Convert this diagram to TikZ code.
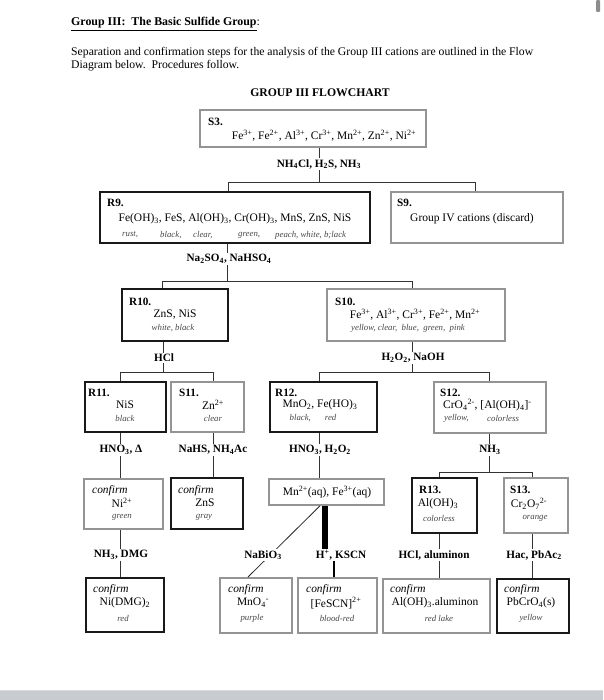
\documentclass[tikz,border=0pt]{standalone}
\usepackage{fontspec}
\setmainfont{Liberation Serif}
\begin{document}
\begin{tikzpicture}[x=1pt,y=-1pt,
  bx/.style={draw, anchor=north west, inner sep=0pt},
  rbox/.style={bx, line width=2.2pt, draw=black!90},
  gbox/.style={bx, line width=1.8pt, draw=black!42},
  hd/.style={anchor=west, inner sep=0pt, font=\bfseries\fontsize{11.2}{13}\selectfont},
  tx/.style={inner sep=0pt, font=\fontsize{11.5}{13}\selectfont},
  txw/.style={tx, anchor=west},
  cl/.style={inner sep=0pt, text=black!72, font=\itshape\fontsize{8.8}{10}\selectfont},
  clw/.style={cl, anchor=west},
  cf/.style={anchor=west, inner sep=0pt, font=\itshape\fontsize{11.4}{13}\selectfont},
  lb/.style={inner sep=1.2pt, fill=white, font=\bfseries\fontsize{11.2}{13}\selectfont},
  conn/.style={line width=0.9pt, draw=black!80},
  pt/.style={anchor=west, inner sep=0pt, font=\fontsize{11.7}{14}\selectfont}]
\useasboundingbox (0,0) rectangle (603,700);
\fill[white] (0,0) rectangle (603,700);
% scrollbar and bottom bar
\fill[black!45, rounded corners=1pt] (596,0) rectangle (600,12);
\fill[fill={rgb,255:red,200;green,203;blue,208}] (0,690) rectangle (603,700);
\draw[black!15, line width=0.6pt] (0,690) -- (603,690);

% header texts
\node[pt, font=\fontsize{11.9}{14}\selectfont] (title) at (71,24) {\underline{\textbf{Group III:\ \ The Basic Sulfide Group}}:};
\node[pt] (para1) at (71,53) {Separation and confirmation steps for the analysis of the Group III cations are outlined in the Flow};
\node[pt] (para2) at (71,66) {Diagram below.\ \ Procedures follow.};
\node[inner sep=0pt, font=\bfseries\fontsize{11.7}{14}\selectfont] (fchead) at (320,93) {GROUP III FLOWCHART};

% boxes
\node[gbox, minimum width=226pt, minimum height=37pt] (S3) at (199,109) {};
\node[rbox, minimum width=270pt, minimum height=51pt] (R9) at (99,191) {};
\node[gbox, minimum width=172pt, minimum height=51pt] (S9) at (390,191) {};
\node[rbox, minimum width=106pt, minimum height=52pt] (R10) at (121,288) {};
\node[gbox, minimum width=178pt, minimum height=52pt] (S10) at (326,288) {};
\node[rbox, minimum width=81pt, minimum height=50pt] (R11) at (84,381) {};
\node[gbox, minimum width=73pt, minimum height=50pt] (S11) at (170,381) {};
\node[rbox, minimum width=107pt, minimum height=50pt] (R12) at (269,381) {};
\node[gbox, minimum width=112pt, minimum height=51pt] (S12) at (433,381) {};
\node[gbox, minimum width=79pt, minimum height=50pt] (cNi) at (83,478) {};
\node[rbox, minimum width=72pt, minimum height=51pt] (cZn) at (170,477) {};
\node[gbox, minimum width=115pt, minimum height=26pt] (Mn) at (268,478) {};
\node[rbox, minimum width=65pt, minimum height=55pt] (R13) at (411,477) {};
\node[gbox, minimum width=64pt, minimum height=55pt] (S13) at (503,477) {};
\node[rbox, minimum width=78pt, minimum height=54pt] (cDMG) at (85,577) {};
\node[gbox, minimum width=72pt, minimum height=55pt] (cMnO) at (219,577) {};
\node[gbox, minimum width=79pt, minimum height=55pt] (cFe) at (297,577) {};
\node[gbox, minimum width=107pt, minimum height=54pt] (cAl) at (382,578) {};
\node[rbox, minimum width=72pt, minimum height=54pt] (cPb) at (496,578) {};

% box texts
\node[hd] (S3h) at (208,122) {S3.};
\node[tx] (S3t) at (324,136) {Fe\textsuperscript{3+}, Fe\textsuperscript{2+}, Al\textsuperscript{3+}, Cr\textsuperscript{3+}, Mn\textsuperscript{2+}, Zn\textsuperscript{2+}, Ni\textsuperscript{2+}};
\node[hd] (R9h) at (107,203) {R9.};
\node[tx] (R9t) at (235,219) {Fe(OH)\textsubscript{3}, FeS, Al(OH)\textsubscript{3}, Cr(OH)\textsubscript{3}, MnS, ZnS, NiS};
\node[clw] (R9c1) at (122,235) {rust,};
\node[clw] (R9c2) at (160,235) {black,};
\node[clw] (R9c3) at (193,235) {clear,};
\node[clw] (R9c4) at (238,235) {green,};
\node[clw] (R9c5) at (275,235) {peach, white, b;lack};
\node[hd] (S9h) at (397,203) {S9.};
\node[tx] (S9t) at (472,219) {Group IV cations (discard)};
\node[hd] (R10h) at (129,302) {R10.};
\node[tx] (R10t) at (175,315) {ZnS, NiS};
\node[cl] (R10c) at (173,328) {white, black};
\node[hd] (S10h) at (335,302) {S10.};
\node[tx] (S10t) at (415,315) {Fe\textsuperscript{3+}, Al\textsuperscript{3+}, Cr\textsuperscript{3+}, Fe\textsuperscript{2+}, Mn\textsuperscript{2+}};
\node[cl] (S10c) at (408,328) {yellow, clear,\ \ blue,\ \ green,\ \ pink};
\node[hd] (R11h) at (88,393) {R11.};
\node[tx] (R11t) at (125,405) {NiS};
\node[cl] (R11c) at (125,418) {black};
\node[hd] (S11h) at (179,393) {S11.};
\node[tx] (S11t) at (213,405) {Zn\textsuperscript{2+}};
\node[cl] (S11c) at (213,418) {clear};
\node[hd] (R12h) at (275,393) {R12.};
\node[tx] (R12t) at (320,405) {MnO\textsubscript{2}, Fe(HO)\textsubscript{3}};
\node[cl] (R12c) at (313,418) {black,\hspace{14pt}red};
\node[hd] (S12h) at (440,393) {S12.};
\node[txw] (S12t) at (443,405) {CrO\textsubscript{4}\textsuperscript{2-}, [Al(OH)\textsubscript{4}]\textsuperscript{-}};
\node[clw] (S12c1) at (444,418) {yellow,};
\node[clw] (S12c2) at (487,418) {colorless};
\node[cf] (cNif) at (92,491) {confirm};
\node[tx] (cNit) at (122,503) {Ni\textsuperscript{2+}};
\node[cl] (cNic) at (122,517) {green};
\node[cf] (cZnf) at (178,491) {confirm};
\node[tx] (cZnt) at (205,503) {ZnS};
\node[cl] (cZnc) at (204,517) {gray};
\node[tx] (Mnt) at (327,492) {Mn\textsuperscript{2+}(aq), Fe\textsuperscript{3+}(aq)};
\node[hd] (R13h) at (419,490) {R13.};
\node[tx] (R13t) at (438,504) {Al(OH)\textsubscript{3}};
\node[cl] (R13c) at (439,518) {colorless};
\node[hd] (S13h) at (510,490) {S13.};
\node[tx] (S13t) at (529,504) {Cr\textsubscript{2}O\textsubscript{7}\textsuperscript{2-}};
\node[cl] (S13c) at (535,518) {orange};
\node[cf] (cDMGf) at (93,590) {confirm};
\node[tx] (cDMGt) at (125,603) {Ni(DMG)\textsubscript{2}};
\node[cl] (cDMGc) at (123,618) {red};
\node[cf] (cMnOf) at (228,590) {confirm};
\node[tx] (cMnOt) at (253,603) {MnO\textsubscript{4}\textsuperscript{-}};
\node[cl] (cMnOc) at (252,618) {purple};
\node[cf] (cFef) at (306,590) {confirm};
\node[tx] (cFet) at (336,603) {[FeSCN]\textsuperscript{2+}};
\node[cl] (cFec) at (337,618) {blood-red};
\node[cf] (cAlf) at (390,590) {confirm};
\node[tx] (cAlt) at (435,603) {Al(OH)\textsubscript{3}.aluminon};
\node[cl] (cAlc) at (439,618) {red lake};
\node[cf] (cPbf) at (504,590) {confirm};
\node[tx] (cPbt) at (531,603) {PbCrO\textsubscript{4}(s)};
\node[cl] (cPbc) at (531,618) {yellow};

% junction coordinates
\coordinate (j1) at (319,182); \coordinate (j1L) at (228,182); \coordinate (j1R) at (475,182);
\coordinate (j2) at (227,281); \coordinate (j2L) at (162,281); \coordinate (j2R) at (412,281);
\coordinate (j3) at (163,372); \coordinate (j3L) at (120,372); \coordinate (j3R) at (213,372);
\coordinate (j4) at (412,372); \coordinate (j4L) at (319,372); \coordinate (j4R) at (489,372);
\coordinate (j5) at (489,472); \coordinate (j5L) at (439,472); \coordinate (j5R) at (532,472);
\coordinate (xR11) at (120,0); \coordinate (xS11) at (213,0); \coordinate (xR12) at (319,0);
\coordinate (xR13) at (439,0); \coordinate (xS13) at (532,0);
\coordinate (xdiag) at (320,0); \coordinate (xbar) at (325,0); \coordinate (xksc) at (334,0);
\coordinate (dEnd) at (248,577);

% diagonal line first (under label)
\draw[line width=0.8pt, black!85] (Mn.south -| xdiag) -- (dEnd);

% labels
\node[lb] (L1) at (319,164) {NH\textsubscript{4}Cl, H\textsubscript{2}S, NH\textsubscript{3}};
\node[lb] (L2) at (229,259) {Na\textsubscript{2}SO\textsubscript{4}, NaHSO\textsubscript{4}};
\node[lb] (L3) at (164,358) {HCl};
\node[lb] (L4) at (413,358) {H\textsubscript{2}O\textsubscript{2}, NaOH};
\node[lb] (L5) at (121,450) {HNO\textsubscript{3}, Δ};
\node[lb] (L6) at (213,450) {NaHS, NH\textsubscript{4}Ac};
\node[lb] (L7) at (320,450) {HNO\textsubscript{3}, H\textsubscript{2}O\textsubscript{2}};
\node[lb] (L8) at (490,450) {NH\textsubscript{3}};
\node[lb] (L9) at (121,555) {NH\textsubscript{3}, DMG};
\node[lb] (L10) at (263,555) {NaBiO\textsubscript{3}};
\node[lb] (L11) at (341,555) {H\textsuperscript{+}, KSCN};
\node[lb] (L12) at (434,555) {HCl, aluminon};
\node[lb] (L13) at (534,555) {Hac, PbAc\textsubscript{2}};

% connectors
\draw[conn] (S3.south -| j1) -- (L1.north -| j1);
\draw[conn] (L1.south -| j1) -- (j1);
\draw[conn] (R9.north -| j1L) -- (j1L) -- (j1R) -- (S9.north -| j1R);
\draw[conn] (R9.south -| j2) -- (L2.north -| j2);
\draw[conn] (L2.south -| j2) -- (j2);
\draw[conn] (R10.north -| j2L) -- (j2L) -- (j2R) -- (S10.north -| j2R);
\draw[conn] (R10.south -| j3) -- (L3.north -| j3);
\draw[conn] (L3.south -| j3) -- (j3);
\draw[conn] (R11.north -| j3L) -- (j3L) -- (j3R) -- (S11.north -| j3R);
\draw[conn] (S10.south -| j4) -- (L4.north -| j4);
\draw[conn] (L4.south -| j4) -- (j4);
\draw[conn] (R12.north -| j4L) -- (j4L) -- (j4R) -- (S12.north -| j4R);
\draw[conn] (R11.south -| xR11) -- (L5.north -| xR11);
\draw[conn] (L5.south -| xR11) -- (cNi.north -| xR11);
\draw[conn] (S11.south -| xS11) -- (L6.north -| xS11);
\draw[conn] (L6.south -| xS11) -- (cZn.north -| xS11);
\draw[conn] (R12.south -| xR12) -- (L7.north -| xR12);
\draw[conn] (L7.south -| xR12) -- (Mn.north -| xR12);
\draw[conn] (S12.south -| j5) -- (L8.north -| j5);
\draw[conn] (L8.south -| j5) -- (j5);
\draw[conn] (R13.north -| j5L) -- (j5L) -- (j5R) -- (S13.north -| j5R);
\draw[conn] (cNi.south -| xR11) -- (L9.north -| xR11);
\draw[conn] (L9.south -| xR11) -- (cDMG.north -| xR11);
\draw[line width=6pt, black] (Mn.south -| xbar) -- (L11.north -| xbar);
\draw[line width=1.5pt, black] (L11.south -| xksc) -- (cFe.north -| xksc);
\draw[conn] (R13.south -| xR13) -- (L12.north -| xR13);
\draw[conn] (L12.south -| xR13) -- (cAl.north -| xR13);
\draw[conn] (S13.south -| xS13) -- (L13.north -| xS13);
\draw[conn] (L13.south -| xS13) -- (cPb.north -| xS13);
\end{tikzpicture}
\end{document}
